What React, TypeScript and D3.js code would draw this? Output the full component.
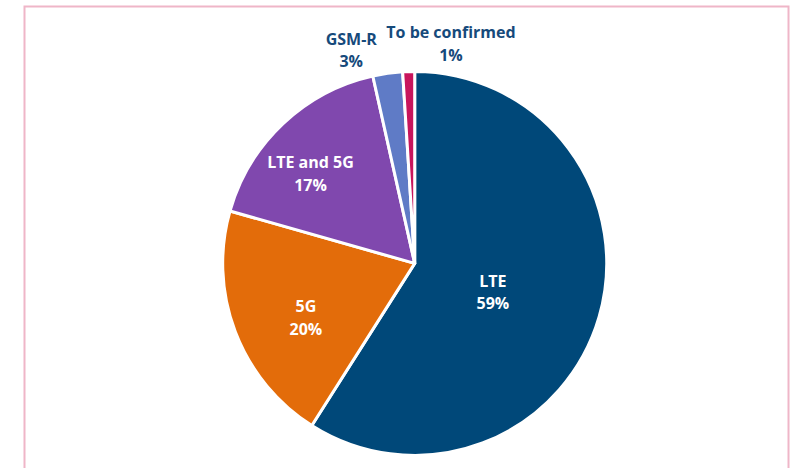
import React, { useEffect, useRef } from 'react';
import * as d3 from 'd3';

const categories = ['LTE', '5G', 'LTE and 5G', 'GSM-R', 'To be confirmed'];
const shares = [59.0, 20.4, 17.1, 2.5, 1.0];
const shareLabels = ['59%', '20%', '17%', '3%', '1%'];
const colors = ['#004879', '#e36c0a', '#8048ae', '#5f7bc6', '#c8155c'];

// label placement: radius factor and angle nudge (degrees)
const labelLayout = [
  { r: 0.435, da: 4.3, inside: true },
  { r: 0.635, da: -5.9, inside: true },
  { r: 0.715, da: -6, inside: true },
  { r: 1.157, da: -8.5, inside: false },
  { r: 1.157, da: 11.2, inside: false },
];

export default function App() {
  const svgRef = useRef<SVGSVGElement>(null);

  useEffect(() => {
    if (!svgRef.current) return;
    const width = 797;
    const height = 468;
    const cx = 414.7;
    const cy = 263.4;
    const radius = 192;

    const svg = d3.select(svgRef.current);
    svg.selectAll('*').remove();
    svg.attr('width', width).attr('height', height);

    svg.append('rect')
      .attr('x', 24.5)
      .attr('y', 6.5)
      .attr('width', 764)
      .attr('height', 480)
      .attr('fill', '#fff')
      .attr('stroke', '#efb6c8')
      .attr('stroke-width', 2);

    const data = categories.map((c, i) => ({ name: c, value: shares[i], label: shareLabels[i], i }));

    const pie = d3.pie<typeof data[number]>().value(d => d.value).sort(null);
    const arcs = pie(data);
    const arc = d3.arc<d3.PieArcDatum<typeof data[number]>>().innerRadius(0).outerRadius(radius);

    const g = svg.append('g').attr('transform', `translate(${cx},${cy})`);

    g.selectAll('path')
      .data(arcs)
      .enter()
      .append('path')
      .attr('d', arc)
      .attr('fill', d => colors[d.data.i])
      .attr('stroke', '#fff')
      .attr('stroke-width', 3)
      .attr('stroke-linejoin', 'round');

    const labels = g.selectAll('g.lbl')
      .data(arcs)
      .enter()
      .append('g')
      .attr('class', 'lbl')
      .attr('transform', d => {
        const lay = labelLayout[d.data.i];
        const a = (d.startAngle + d.endAngle) / 2 + (lay.da * Math.PI) / 180;
        const rr = radius * lay.r;
        return `translate(${rr * Math.sin(a)},${-rr * Math.cos(a)})`;
      });

    labels.each(function (d) {
      const lay = labelLayout[d.data.i];
      const t = d3.select(this).append('text')
        .attr('text-anchor', 'middle')
        .attr('font-family', '"Open Sans", sans-serif')
        .attr('font-weight', 700)
        .attr('font-size', 16)
        .attr('fill', lay.inside ? '#ffffff' : '#164a7b');
      t.append('tspan').attr('x', 0).attr('y', -6).text(d.data.name);
      t.append('tspan').attr('x', 0).attr('y', 16.5).text(d.data.label);
    });
  }, []);

  return (
    <div style={{ position: 'absolute', left: 0, top: 0 }}>
      <svg ref={svgRef} style={{ display: 'block' }}></svg>
    </div>
  );
}
